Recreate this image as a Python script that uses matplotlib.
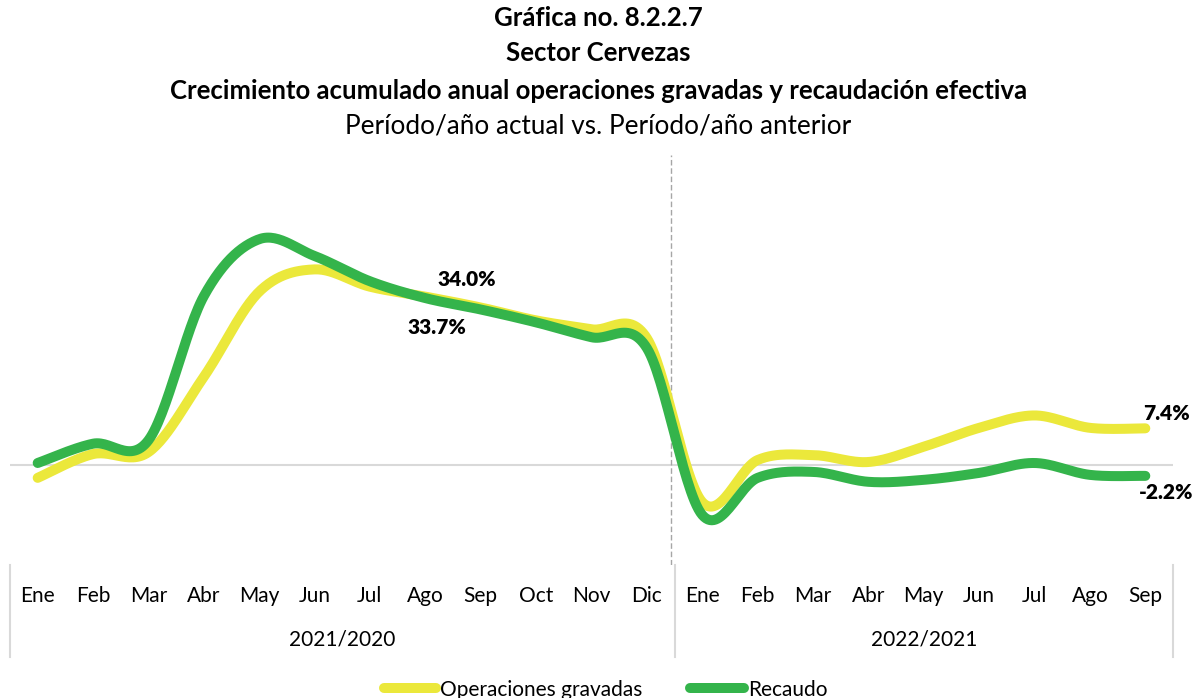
import numpy as np
import matplotlib
matplotlib.use("Agg")
import matplotlib.pyplot as plt
from matplotlib.lines import Line2D
from matplotlib.transforms import blended_transform_factory

plt.rcParams['font.family'] = ['Lato', 'DejaVu Sans']

# Monthly categories and their year groups
meses = ['Ene', 'Feb', 'Mar', 'Abr', 'May', 'Jun', 'Jul', 'Ago', 'Sep', 'Oct', 'Nov', 'Dic',
         'Ene', 'Feb', 'Mar', 'Abr', 'May', 'Jun', 'Jul', 'Ago', 'Sep']
grupos = ['2021/2020', '2022/2021']
grupo_tamano = [12, 9]

# Accumulated annual growth (%)
operaciones = [-2.6, 2.2, 2.6, 17.8, 35.0, 39.5, 36.0, 34.0, 31.8, 29.2, 27.4, 25.6,
               -7.5, 1.0, 2.0, 0.6, 3.7, 7.5, 10.0, 7.5, 7.4]
recaudo = [0.4, 4.3, 5.0, 34.1, 45.6, 42.2, 37.1, 33.7, 31.4, 28.8, 25.8, 23.6,
           -10.1, -2.6, -1.4, -3.4, -3.0, -1.6, 0.4, -2.0, -2.2]

amarillo = '#EBE83B'
verde = '#34B44B'


def suavizar(y, pasos=30):
    # smooth line through the points (cubic Bezier / Catmull-Rom, like Excel's smoothed line)
    y = np.asarray(y, dtype=float)
    x = np.arange(len(y), dtype=float)
    px = np.concatenate([[x[0]], x, [x[-1]]])
    py = np.concatenate([[y[0]], y, [y[-1]]])
    xs, ys = [], []
    t = np.linspace(0, 1, pasos)
    for i in range(len(y) - 1):
        p0x, p0y = px[i + 1], py[i + 1]
        p3x, p3y = px[i + 2], py[i + 2]
        c1x = p0x + (px[i + 2] - px[i]) / 6
        c1y = p0y + (py[i + 2] - py[i]) / 6
        c2x = p3x - (px[i + 3] - px[i + 1]) / 6
        c2y = p3y - (py[i + 3] - py[i + 1]) / 6
        b0 = (1 - t) ** 3
        b1 = 3 * (1 - t) ** 2 * t
        b2 = 3 * (1 - t) * t ** 2
        b3 = t ** 3
        xs.append(b0 * p0x + b1 * c1x + b2 * c2x + b3 * p3x)
        ys.append(b0 * p0y + b1 * c1y + b2 * c2y + b3 * p3y)
    return np.concatenate(xs), np.concatenate(ys)


W, H = 1197, 698
fig = plt.figure(figsize=(W / 100, H / 100), dpi=100)

# plot area in pixels: left 10, right 1173, top 155, bottom 565
ax = fig.add_axes([10 / W, (H - 565) / H, 1163 / W, 410 / H])
ax.set_xlim(-0.5, len(meses) - 0.5)
ax.set_ylim(-20.2, 62.6)
ax.axis('off')

ax.axhline(0, color='#D9D9D9', lw=1.5, zorder=1)
ax.axvline(11.44, color='#A6A6A6', lw=1, ls=(0, (4, 2)), zorder=1)

x1, y1 = suavizar(operaciones)
x2, y2 = suavizar(recaudo)
ax.plot(x1, y1, color=amarillo, lw=7.2, solid_capstyle='round', zorder=3)
ax.plot(x2, y2, color=verde, lw=7.2, solid_capstyle='round', zorder=4)

# data labels
etiquetas = [
    (7, operaciones[7], '34.0%', (41, 17)),
    (7, recaudo[7], '33.7%', (12, -29)),
    (20, operaciones[20], '7.4%', (21, 15)),
    (20, recaudo[20], '-2.2%', (21, -17)),
]
for xi, yi, txt, off in etiquetas:
    ax.annotate(txt, (xi, yi), xytext=off, textcoords='offset pixels',
                ha='center', va='center', fontsize=15, fontweight='heavy', zorder=5)

# multi-level category axis
trans = blended_transform_factory(ax.transData, fig.transFigure)
for i, m in enumerate(meses):
    fig.text(i, 1 - 596 / H, m, transform=trans, ha='center', va='center', fontsize=15)

inicio = 0
bordes = [-0.5]
for g, n in zip(grupos, grupo_tamano):
    centro = inicio + (n - 1) / 2
    fig.text(centro, 1 - 640 / H, g, transform=trans, ha='center', va='center', fontsize=15)
    inicio += n
    bordes.append(inicio - 0.5)
for b in bordes:
    fig.add_artist(Line2D([b, b], [1 - 565 / H, 1 - 657 / H], transform=trans,
                          color='#D9D9D9', lw=1.5))

# titles
fig.text(0.5, 1 - 18 / H, 'Gráfica no. 8.2.2.7', ha='center', va='center',
         fontsize=18.5, fontweight='bold')
fig.text(0.5, 1 - 53 / H, 'Sector Cervezas', ha='center', va='center',
         fontsize=18.5, fontweight='bold')
fig.text(0.5, 1 - 91 / H, 'Crecimiento acumulado anual operaciones gravadas y recaudación efectiva',
         ha='center', va='center', fontsize=18.5, fontweight='bold')
fig.text(0.5, 1 - 126 / H, 'Período/año actual vs. Período/año anterior',
         ha='center', va='center', fontsize=18.8)

# legend along the bottom edge
ly = 1 - 688 / H
fig.add_artist(Line2D([384 / W, 436 / W], [ly, ly], color=amarillo, lw=7.2,
                      solid_capstyle='round'))
fig.text(440 / W, 1 - 690 / H, 'Operaciones gravadas', ha='left', va='center', fontsize=15)
fig.add_artist(Line2D([690 / W, 744 / W], [ly, ly], color=verde, lw=7.2,
                      solid_capstyle='round'))
fig.text(748 / W, 1 - 690 / H, 'Recaudo', ha='left', va='center', fontsize=15)

fig.savefig('out.png', dpi=100)
